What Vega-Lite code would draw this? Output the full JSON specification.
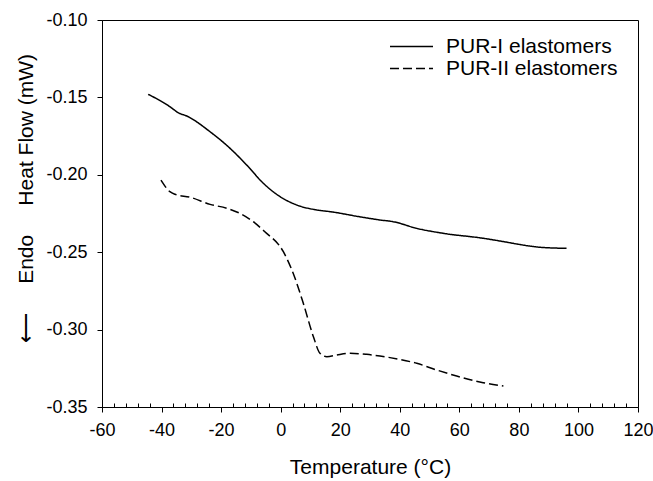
{
  "$schema": "https://vega.github.io/schema/vega-lite/v6.json",
  "width": 536,
  "height": 387,
  "autosize": {"type": "none"},
  "padding": {"left": 102, "top": 20, "right": 15, "bottom": 74},
  "config": {
    "font": "Liberation Sans",
    "view": {"stroke": "black", "strokeWidth": 1},
    "axis": {
      "grid": false,
      "domainColor": "black",
      "tickColor": "black",
      "labelColor": "black",
      "titleColor": "black",
      "titleFontWeight": "normal",
      "labelFontSize": 18,
      "titleFontSize": 21,
      "labelFont": "Liberation Sans",
      "titleFont": "Liberation Sans"
    }
  },
  "data": {
    "values": [
      {"series": "PUR-I elastomers", "t": -44.5, "hf": -0.148},
      {"series": "PUR-I elastomers", "t": -36, "hf": -0.1577},
      {"series": "PUR-I elastomers", "t": -35, "hf": -0.1592},
      {"series": "PUR-I elastomers", "t": -31, "hf": -0.1625},
      {"series": "PUR-I elastomers", "t": -23.7, "hf": -0.1722},
      {"series": "PUR-I elastomers", "t": -17, "hf": -0.1829},
      {"series": "PUR-I elastomers", "t": -11.4, "hf": -0.1937},
      {"series": "PUR-I elastomers", "t": -5.8, "hf": -0.2055},
      {"series": "PUR-I elastomers", "t": -0.2, "hf": -0.2141},
      {"series": "PUR-I elastomers", "t": 5.4, "hf": -0.2195},
      {"series": "PUR-I elastomers", "t": 12.1, "hf": -0.2227},
      {"series": "PUR-I elastomers", "t": 16.6, "hf": -0.2238},
      {"series": "PUR-I elastomers", "t": 27.7, "hf": -0.2275},
      {"series": "PUR-I elastomers", "t": 33.4, "hf": -0.2292},
      {"series": "PUR-I elastomers", "t": 37.8, "hf": -0.2303},
      {"series": "PUR-I elastomers", "t": 45.7, "hf": -0.2346},
      {"series": "PUR-I elastomers", "t": 54.6, "hf": -0.2378},
      {"series": "PUR-I elastomers", "t": 68, "hf": -0.241},
      {"series": "PUR-I elastomers", "t": 77, "hf": -0.2439},
      {"series": "PUR-I elastomers", "t": 79.3, "hf": -0.2447},
      {"series": "PUR-I elastomers", "t": 87.1, "hf": -0.2468},
      {"series": "PUR-I elastomers", "t": 96, "hf": -0.2475},
      {"series": "PUR-II elastomers", "t": -40.2, "hf": -0.2034},
      {"series": "PUR-II elastomers", "t": -37.2, "hf": -0.2109},
      {"series": "PUR-II elastomers", "t": -35.5, "hf": -0.2126},
      {"series": "PUR-II elastomers", "t": -30.4, "hf": -0.2145},
      {"series": "PUR-II elastomers", "t": -23.7, "hf": -0.2191},
      {"series": "PUR-II elastomers", "t": -18.1, "hf": -0.2216},
      {"series": "PUR-II elastomers", "t": -13.7, "hf": -0.2249},
      {"series": "PUR-II elastomers", "t": -9.2, "hf": -0.2303},
      {"series": "PUR-II elastomers", "t": -5.5, "hf": -0.2365},
      {"series": "PUR-II elastomers", "t": 0.9, "hf": -0.2497},
      {"series": "PUR-II elastomers", "t": 4.2, "hf": -0.2636},
      {"series": "PUR-II elastomers", "t": 7.6, "hf": -0.283},
      {"series": "PUR-II elastomers", "t": 11.0, "hf": -0.3046},
      {"series": "PUR-II elastomers", "t": 13.2, "hf": -0.3153},
      {"series": "PUR-II elastomers", "t": 15.5, "hf": -0.3175},
      {"series": "PUR-II elastomers", "t": 18.8, "hf": -0.3164},
      {"series": "PUR-II elastomers", "t": 23.3, "hf": -0.3153},
      {"series": "PUR-II elastomers", "t": 28.9, "hf": -0.316},
      {"series": "PUR-II elastomers", "t": 36.7, "hf": -0.3181},
      {"series": "PUR-II elastomers", "t": 45.7, "hf": -0.3218},
      {"series": "PUR-II elastomers", "t": 52.4, "hf": -0.3261},
      {"series": "PUR-II elastomers", "t": 59.1, "hf": -0.33},
      {"series": "PUR-II elastomers", "t": 68, "hf": -0.3343},
      {"series": "PUR-II elastomers", "t": 74.8, "hf": -0.3364}
    ]
  },
  "mark": {"type": "line", "color": "black", "strokeWidth": 1.5, "interpolate": "monotone"},
  "encoding": {
    "x": {
      "field": "t",
      "type": "quantitative",
      "scale": {"domain": [-60, 120], "nice": false, "zero": false},
      "axis": {
        "title": "Temperature (°C)",
        "values": [-60,-56,-52,-48,-44,-40,-36,-32,-28,-24,-20,-16,-12,-8,-4,0,4,8,12,16,20,24,28,32,36,40,44,48,52,56,60,64,68,72,76,80,84,88,92,96,100,104,108,112,116,120],
        "labelExpr": "datum.value % 20 === 0 ? replace(datum.label, '\u2212', '-') : ''",
        "tickSize": {"condition": {"test": "datum.value % 20 === 0", "value": 5}, "value": -4},
        "labelPadding": 9,
        "titlePadding": 17,
        "labelFlush": false,
        "labelOverlap": false
      }
    },
    "y": {
      "field": "hf",
      "type": "quantitative",
      "scale": {"domain": [-0.35, -0.1], "nice": false, "zero": false},
      "axis": {
        "title": "\u27f5\u00a0\u00a0\u00a0\u00a0\u00a0Endo\u00a0\u00a0\u00a0\u00a0\u00a0Heat Flow (mW)",
        "values": [-0.35, -0.3, -0.25, -0.2, -0.15, -0.1],
        "format": ".2f",
        "labelExpr": "replace(datum.label, '\u2212', '-')",
        "tickSize": 5,
        "labelPadding": 10,
        "titlePadding": 9,
        "titleY": 178
      }
    },
    "strokeDash": {
      "field": "series",
      "type": "nominal",
      "scale": {"domain": ["PUR-I elastomers", "PUR-II elastomers"], "range": [[1, 0], [9, 4]]},
      "legend": {
        "title": null,
        "orient": "none",
        "legendX": 299,
        "legendY": 16,
        "padding": 0,
        "symbolType": "M-2.5,0H2.5",
        "symbolSize": 296,
        "symbolStrokeWidth": 1.5,
        "symbolStrokeColor": "black",
        "labelFontSize": 21,
        "labelFont": "Liberation Sans",
        "labelColor": "black",
        "labelOffset": 24,
        "labelLimit": 400,
        "rowPadding": 0
      }
    }
  }
}
